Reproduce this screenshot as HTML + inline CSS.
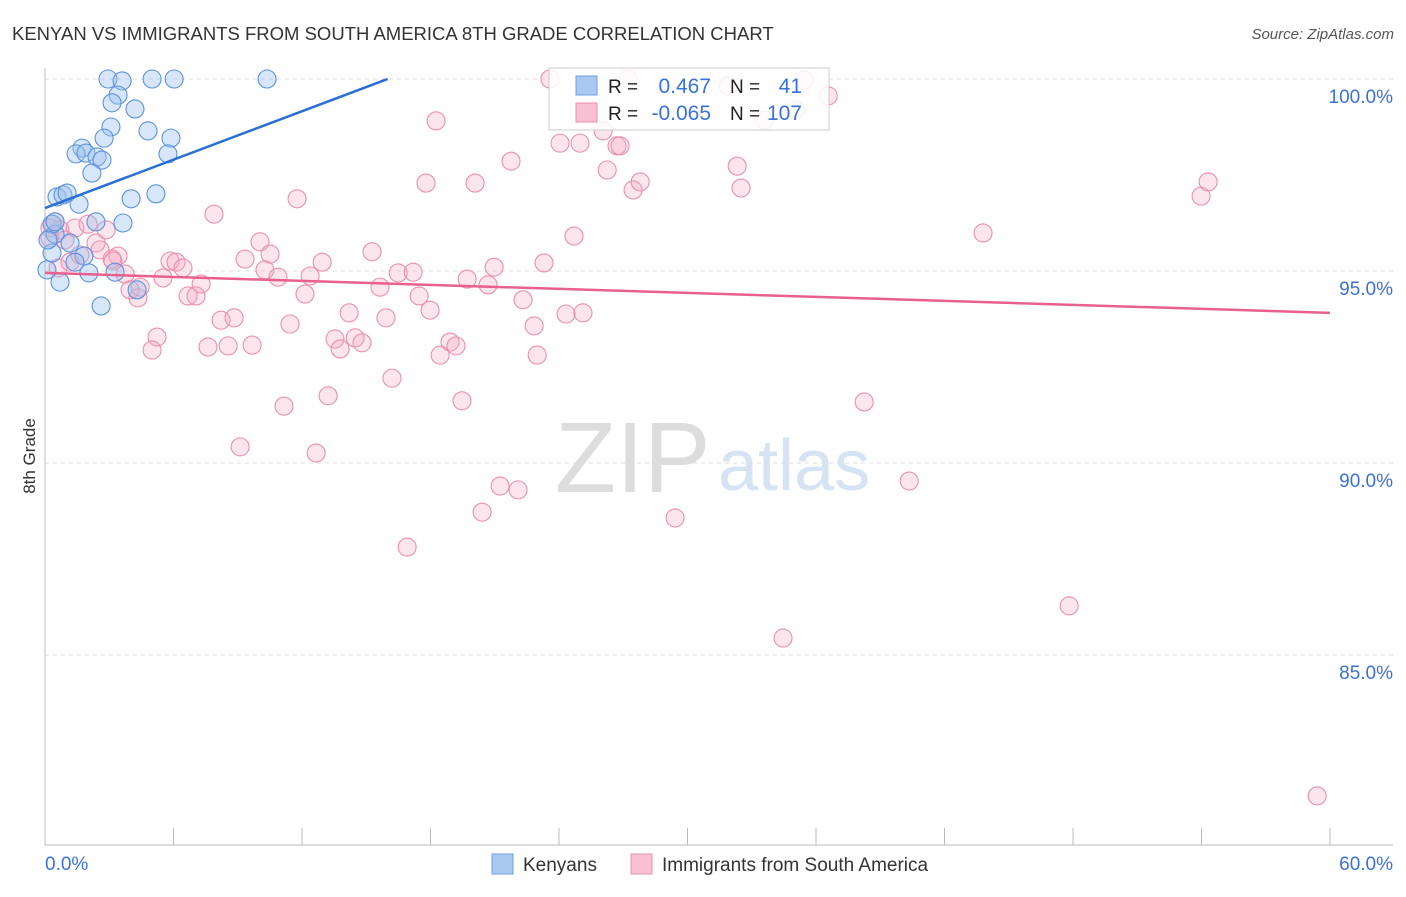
<!DOCTYPE html>
<html><head><meta charset="utf-8">
<style>
body{margin:0;background:#fff;font-family:"Liberation Sans",sans-serif;}
svg text{font-family:"Liberation Sans",sans-serif;}
</style></head>
<body>
<svg id="chart" width="1406" height="892" xmlns="http://www.w3.org/2000/svg">
<text x="12" y="40" font-size="18.5" fill="#333">KENYAN VS IMMIGRANTS FROM SOUTH AMERICA 8TH GRADE CORRELATION CHART</text>
<text x="1394" y="39" font-size="15" fill="#555" font-style="italic" text-anchor="end">Source: ZipAtlas.com</text>
<text x="35" y="456" font-size="17" fill="#333" text-anchor="middle" transform="rotate(-90 35 456)">8th Grade</text>
<text x="555" y="492" font-size="100" fill="#ddd" font-family="Liberation Serif, serif">ZIP</text>
<text x="718" y="490" font-size="72" fill="#d5e3f3">atlas</text>
<g id="grid"></g>
<g id="axes"></g>
<g id="marks"></g>
<g>
<rect x="549" y="68" width="280" height="62" fill="#fff" fill-opacity="0.85" stroke="#ccc"/>
<rect x="576" y="76" width="21" height="19" fill="#a9c9f0" stroke="#6fa0e0"/>
<rect x="576" y="103" width="21" height="19" fill="#f8c0d2" stroke="#ec8fae"/>
<text x="608" y="93" font-size="19" fill="#222">R =</text>
<text x="711" y="93" font-size="21" fill="#3a72d8" text-anchor="end">0.467</text>
<text x="730" y="93" font-size="19" fill="#222">N =</text>
<text x="802" y="93" font-size="21" fill="#3a72d8" text-anchor="end">41</text>
<text x="608" y="120" font-size="19" fill="#222">R =</text>
<text x="711" y="120" font-size="21" fill="#3a72d8" text-anchor="end">-0.065</text>
<text x="730" y="120" font-size="19" fill="#222">N =</text>
<text x="802" y="120" font-size="21" fill="#3a72d8" text-anchor="end">107</text>
</g>
<g>
<rect x="492" y="854" width="21" height="20" fill="#a9c9f0" stroke="#6fa0e0"/>
<text x="523" y="871" font-size="19" fill="#333">Kenyans</text>
<rect x="631" y="854" width="21" height="20" fill="#f8c0d2" stroke="#ec8fae"/>
<text x="662" y="871" font-size="19" fill="#333">Immigrants from South America</text>
</g>
</svg>
<script>
const yTicks=[100,95,90,85];
const yTickLabels=["100.0%","95.0%","90.0%","85.0%"];
const xTicks=[0,6,12,18,24,30,36,42,48,54,60];
const xEndLabels=["0.0%","60.0%"];
const blueX=[2.94,3.60,5.00,6.03,10.37,3.41,3.13,4.20,3.08,4.81,2.76,5.88,1.73,1.45,1.91,2.43,2.66,5.74,2.19,5.18,4.02,0.56,0.84,1.03,1.59,2.38,3.64,0.47,0.33,1.17,1.82,1.40,2.05,3.27,0.70,4.30,2.62,0.09,0.33,0.14,0.47];
const blueY=[100,99.95,100,100,100,99.58,99.38,99.22,98.75,98.65,98.46,98.46,98.20,98.05,98.07,97.97,97.89,98.05,97.55,97.01,96.88,96.93,96.98,97.03,96.74,96.28,96.25,95.96,95.47,95.73,95.39,95.23,94.95,94.97,94.71,94.51,94.09,95.03,96.22,95.81,96.28];
const pinkX=[0.47,0.70,0.23,0.61,1.17,1.40,2.01,2.38,2.57,2.85,3.18,3.41,3.74,3.97,4.34,5.23,5.00,5.51,5.84,6.12,6.44,6.68,7.05,7.29,7.61,7.89,8.22,8.55,8.83,9.11,9.34,9.67,10.04,10.27,10.51,10.88,11.16,11.44,11.77,12.14,12.38,12.66,12.94,13.22,13.54,13.78,14.20,14.48,14.80,15.27,15.64,15.92,16.20,16.49,16.91,17.19,17.47,17.79,17.98,18.26,18.45,18.91,19.19,19.47,19.71,20.08,20.41,20.69,20.97,21.25,21.76,22.09,22.32,22.84,22.98,23.30,23.58,24.05,24.33,24.70,24.98,25.12,26.06,26.25,26.71,26.85,27.23,27.46,27.79,29.42,31.90,32.32,32.50,33.62,34.46,35.03,35.45,36.57,38.25,40.35,43.80,47.82,53.98,54.31,59.40,0.23,0.93,1.63,3.13,4.44];
const pinkY=[96.28,96.07,95.86,95.08,95.23,96.12,96.22,95.73,95.55,96.07,95.26,95.39,94.92,94.51,94.30,93.28,92.94,94.82,95.26,95.23,95.08,94.35,94.35,94.66,93.02,96.48,93.72,93.05,93.78,90.42,95.31,93.07,95.76,95.03,95.44,94.84,91.48,93.62,96.88,94.40,94.87,90.26,95.23,91.75,93.23,92.97,93.91,93.26,93.13,95.50,94.58,93.78,92.21,94.95,87.81,94.97,94.35,97.29,93.98,98.91,92.81,93.15,93.05,91.62,94.79,97.29,88.72,94.64,95.10,89.40,97.86,89.30,94.25,93.57,92.81,95.21,100,98.33,93.88,95.91,98.33,93.91,98.65,97.63,98.26,98.26,100,97.11,97.32,88.57,99.82,97.73,97.16,98.93,85.44,99.19,99.97,99.56,91.59,89.53,95.99,86.28,96.95,97.32,81.33,96.12,95.81,95.42,95.31,94.58];
const blueTrend=[0,96.64,16.0,100];
const pinkTrend=[0,94.95,60,93.91];

const NS="http://www.w3.org/2000/svg";
const X0=45,X1=1330,Y100=79,PXPER=38.4;
function xs(v){return X0+(v/60)*(X1-X0);}
function ys(v){return Y100+(100-v)*PXPER;}
function mk(tag,attrs,parent){const e=document.createElementNS(NS,tag);for(const k in attrs)e.setAttribute(k,attrs[k]);parent.appendChild(e);return e;}
const grid=document.getElementById('grid'),axes=document.getElementById('axes'),marks=document.getElementById('marks');
yTicks.forEach((t,i)=>{
 const l=mk('line',{x1:45,x2:1393,y1:ys(t),y2:ys(t),stroke:'#ddd','stroke-dasharray':'4,4'},grid);
 
 
 const tx=mk('text',{x:1393,y:ys(t)+24,'font-size':19,fill:'#3a72d8','text-anchor':'end'},grid);
 tx.textContent=yTickLabels[i];
 
 
});
const la=mk('line',{x1:45,x2:45,y1:68,y2:845,stroke:'#bbb'},axes);


const lb=mk('line',{x1:45,x2:1393,y1:845,y2:845,stroke:'#bbb'},axes);


xTicks.forEach(t=>{
 const k=mk('line',{x1:xs(t),x2:xs(t),y1:828,y2:845,stroke:'#bbb'},axes);
 
 
});
const xl0=mk('text',{x:45,y:870,'font-size':19,fill:'#3a72d8'},axes);xl0.textContent=xEndLabels[0];


const xl1=mk('text',{x:1393,y:870,'font-size':19,fill:'#3a72d8','text-anchor':'end'},axes);xl1.textContent=xEndLabels[1];


pinkX.forEach((x,i)=>{
 const c=mk('circle',{cx:xs(x),cy:ys(pinkY[i]),r:9,fill:'#f6a9c2','fill-opacity':0.3,stroke:'#ec8fae','stroke-width':1.1},marks);
 
 
});
blueX.forEach((x,i)=>{
 const c=mk('circle',{cx:xs(x),cy:ys(blueY[i]),r:9,fill:'#9cc0ee','fill-opacity':0.4,stroke:'#5b93dc','stroke-width':1.1},marks);
 
 
});
const bt=mk('line',{x1:xs(blueTrend[0]),y1:ys(blueTrend[1]),x2:xs(blueTrend[2]),y2:ys(blueTrend[3]),stroke:'#2a6fd6','stroke-width':2.5},marks);


const pt=mk('line',{x1:xs(pinkTrend[0]),y1:ys(pinkTrend[1]),x2:xs(pinkTrend[2]),y2:ys(pinkTrend[3]),stroke:'#e8608e','stroke-width':2.5},marks);


</script>
</body></html>
